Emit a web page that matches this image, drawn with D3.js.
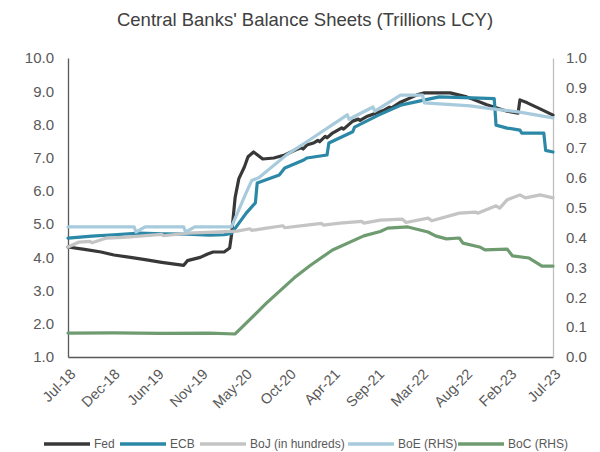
<!DOCTYPE html>
<html>
<head>
<meta charset="utf-8">
<script src="https://cdn.jsdelivr.net/npm/d3@7/dist/d3.min.js"></script>
<style>
  html, body { margin: 0; padding: 0; background: #fff; }
  svg { display: block; font-family: "Liberation Sans", Arial, sans-serif; }
</style>
</head>
<body>
<svg id="chart" width="600" height="452"></svg>
<script>
// Weekly-dated balance sheet readings, trillions of local currency
const fed = [
  ["2018-07-04", 4.31], ["2018-09-05", 4.24], ["2018-11-07", 4.16], ["2018-12-26", 4.07],
  ["2019-02-27", 4.00], ["2019-04-24", 3.93], ["2019-06-26", 3.85], ["2019-08-28", 3.78],
  ["2019-09-18", 3.76], ["2019-10-02", 3.90], ["2019-11-20", 4.00], ["2019-12-18", 4.10],
  ["2020-01-08", 4.16], ["2020-02-19", 4.16], ["2020-03-11", 4.28], ["2020-03-18", 4.67],
  ["2020-03-25", 5.25], ["2020-04-01", 5.81], ["2020-04-15", 6.37], ["2020-05-06", 6.72],
  ["2020-05-20", 7.03], ["2020-06-10", 7.17], ["2020-06-24", 7.09], ["2020-07-15", 6.96],
  ["2020-08-26", 6.99], ["2020-10-07", 7.08], ["2020-11-18", 7.24], ["2020-12-09", 7.30],
  ["2020-12-16", 7.26], ["2020-12-30", 7.38], ["2021-01-27", 7.45], ["2021-02-10", 7.52],
  ["2021-02-17", 7.48], ["2021-03-10", 7.64], ["2021-03-17", 7.60], ["2021-04-07", 7.74],
  ["2021-05-12", 7.90], ["2021-05-19", 7.86], ["2021-06-23", 8.10], ["2021-07-14", 8.16],
  ["2021-07-21", 8.12], ["2021-08-18", 8.25], ["2021-10-20", 8.43], ["2021-11-10", 8.52],
  ["2021-11-17", 8.49], ["2021-12-22", 8.67], ["2022-02-23", 8.89], ["2022-03-23", 8.95],
  ["2022-06-29", 8.95], ["2022-08-31", 8.83], ["2022-11-16", 8.59], ["2023-02-01", 8.40],
  ["2023-03-15", 8.34], ["2023-03-22", 8.74], ["2023-04-19", 8.65], ["2023-06-07", 8.47],
  ["2023-07-26", 8.28]
];
const ecb = [
  ["2018-07-04", 4.58], ["2018-10-03", 4.64], ["2018-12-26", 4.68], ["2019-04-03", 4.73],
  ["2019-06-26", 4.71], ["2019-10-02", 4.70], ["2019-12-25", 4.67], ["2020-02-19", 4.68],
  ["2020-03-18", 4.72], ["2020-05-13", 5.33], ["2020-06-17", 5.64], ["2020-06-24", 6.24],
  ["2020-09-16", 6.48], ["2020-10-07", 6.69], ["2020-12-16", 6.92], ["2020-12-30", 6.99],
  ["2021-03-17", 7.08], ["2021-03-24", 7.44], ["2021-06-23", 7.78], ["2021-06-30", 7.92],
  ["2021-09-29", 8.28], ["2021-12-22", 8.58], ["2022-05-18", 8.83], ["2022-09-21", 8.80],
  ["2022-12-14", 8.78], ["2022-12-21", 7.98], ["2023-02-01", 7.89], ["2023-03-22", 7.83],
  ["2023-03-29", 7.74], ["2023-06-21", 7.74], ["2023-06-28", 7.22], ["2023-07-26", 7.17]
];
// BoJ is shown in hundreds of trillions of yen
const boj = [
  ["2018-07-04", 4.31], ["2018-08-15", 4.46], ["2018-09-26", 4.48], ["2018-10-03", 4.44],
  ["2018-11-28", 4.58], ["2019-01-30", 4.60], ["2019-04-03", 4.64], ["2019-06-26", 4.69],
  ["2019-07-03", 4.65], ["2019-10-02", 4.73], ["2020-01-08", 4.76], ["2020-04-08", 4.79],
  ["2020-05-27", 4.86], ["2020-06-03", 4.81], ["2020-07-29", 4.88], ["2020-09-30", 4.95],
  ["2020-10-07", 4.89], ["2020-12-30", 4.97], ["2021-02-24", 5.02], ["2021-03-03", 4.97],
  ["2021-05-05", 5.03], ["2021-07-28", 5.08], ["2021-08-04", 5.03], ["2021-10-06", 5.12],
  ["2021-12-29", 5.15], ["2022-01-12", 5.05], ["2022-04-06", 5.18], ["2022-04-20", 5.10],
  ["2022-08-03", 5.33], ["2022-10-05", 5.36], ["2022-10-12", 5.33], ["2022-12-21", 5.55],
  ["2023-01-04", 5.48], ["2023-02-01", 5.73], ["2023-03-22", 5.88], ["2023-04-12", 5.79],
  ["2023-06-07", 5.88], ["2023-07-26", 5.79]
];
const boe = [
  ["2018-07-04", 0.435], ["2019-03-13", 0.435], ["2019-03-20", 0.418], ["2019-04-24", 0.435],
  ["2019-09-18", 0.435], ["2019-09-25", 0.418], ["2019-10-30", 0.435], ["2020-03-18", 0.435],
  ["2020-05-13", 0.55], ["2020-06-03", 0.59], ["2020-07-01", 0.60], ["2020-10-14", 0.676],
  ["2020-12-30", 0.72], ["2021-06-02", 0.81], ["2021-06-09", 0.795], ["2021-09-08", 0.836],
  ["2021-09-15", 0.822], ["2021-12-22", 0.876], ["2022-03-16", 0.876], ["2022-03-23", 0.85],
  ["2022-09-14", 0.84], ["2022-12-07", 0.83], ["2023-03-15", 0.82], ["2023-07-26", 0.80]
];
const boc = [
  ["2018-07-04", 0.080], ["2018-12-26", 0.081], ["2019-06-26", 0.079], ["2019-12-25", 0.080],
  ["2020-04-01", 0.077], ["2020-07-29", 0.18], ["2020-11-11", 0.264], ["2021-01-13", 0.307],
  ["2021-04-07", 0.358], ["2021-08-04", 0.405], ["2021-10-06", 0.420], ["2021-11-03", 0.431],
  ["2022-01-19", 0.435], ["2022-04-06", 0.418], ["2022-05-04", 0.405], ["2022-06-15", 0.395],
  ["2022-08-03", 0.398], ["2022-08-17", 0.381], ["2022-10-19", 0.368], ["2022-11-09", 0.358],
  ["2023-02-01", 0.361], ["2023-02-22", 0.338], ["2023-04-26", 0.331], ["2023-06-14", 0.304],
  ["2023-07-26", 0.304]
];

const tickDates = ["2018-07-04", "2018-12-19", "2019-06-05", "2019-11-20", "2020-05-06", "2020-10-21",
                   "2021-04-07", "2021-09-22", "2022-03-09", "2022-08-24", "2023-02-08", "2023-07-26"];
const tickLabels = ["Jul-18", "Dec-18", "Jun-19", "Nov-19", "May-20", "Oct-20",
                    "Apr-21", "Sep-21", "Mar-22", "Aug-22", "Feb-23", "Jul-23"];
const leftTicks = [1, 2, 3, 4, 5, 6, 7, 8, 9, 10];
const rightTicks = [0, 0.1, 0.2, 0.3, 0.4, 0.5, 0.6, 0.7, 0.8, 0.9, 1.0];

const seriesNames = ["Fed", "ECB", "BoJ (in hundreds)", "BoE (RHS)", "BoC (RHS)"];
const seriesData = [fed, ecb, boj, boe, boc];
const seriesAxis = ["left", "left", "left", "right", "right"];
const seriesColors = ["#383838", "#2b88a6", "#c4c4c4", "#a7cbdc", "#6e9c70"];

const parse = d3.timeParse("%Y-%m-%d");
const svg = d3.select("#chart");

const x = d3.scaleTime()
  .domain([parse(tickDates[0]), parse(tickDates[tickDates.length - 1])])
  .range([68, 553]);
const yL = d3.scaleLinear().domain([1, 10]).range([357, 58]);
const yR = d3.scaleLinear().domain([0, 1]).range([357, 58]);

// Title
svg.append("text")
  .attr("x", 305).attr("y", 26)
  .attr("text-anchor", "middle")
  .attr("font-size", 18.5)
  .attr("fill", "#404040")
  .text("Central Banks' Balance Sheets (Trillions LCY)");

// Axes
const labelMap = new Map(tickDates.map((d, i) => [+parse(d), tickLabels[i]]));
const gx = svg.append("g").attr("transform", "translate(0,357)")
  .call(d3.axisBottom(x).tickValues(tickDates.map(parse)).tickSize(0).tickSizeOuter(0)
    .tickFormat(d => labelMap.get(+d)));
gx.select(".domain").attr("stroke", "#595959").attr("stroke-width", 1.3);
gx.selectAll("text")
  .attr("font-size", 14.5).attr("fill", "#595959").attr("font-family", null)
  .attr("text-anchor", "end")
  .attr("dy", null).attr("y", 0)
  .attr("transform", "translate(8,18) rotate(-45)");

const gl = svg.append("g").attr("transform", "translate(68,0)")
  .call(d3.axisLeft(yL).tickValues(leftTicks).tickSize(0).tickSizeOuter(0).tickPadding(14)
    .tickFormat(d3.format(".1f")));
gl.select(".domain").attr("stroke", "#595959").attr("stroke-width", 1.3);
gl.selectAll("text").attr("font-size", 15).attr("fill", "#595959").attr("font-family", null);

const gr = svg.append("g").attr("transform", "translate(553,0)")
  .call(d3.axisRight(yR).tickValues(rightTicks).tickSize(0).tickSizeOuter(0).tickPadding(13)
    .tickFormat(d3.format(".1f")));
gr.select(".domain").attr("stroke", "#bfbfbf").attr("stroke-width", 1.3);
gr.selectAll("text").attr("font-size", 15).attr("fill", "#595959").attr("font-family", null);

// Series lines
seriesData.forEach((data, i) => {
  const y = seriesAxis[i] === "left" ? yL : yR;
  const line = d3.line().x(d => x(parse(d[0]))).y(d => y(d[1]));
  svg.append("path")
    .datum(data)
    .attr("d", line)
    .attr("fill", "none")
    .attr("stroke", seriesColors[i])
    .attr("stroke-width", 3.2)
    .attr("stroke-linejoin", "round")
    .attr("stroke-linecap", "round");
});

// Legend
const legendX = [44, 120, 200, 348, 458];
const lg = svg.append("g").attr("transform", "translate(0,444)");
seriesNames.forEach((name, i) => {
  lg.append("line")
    .attr("x1", legendX[i]).attr("x2", legendX[i] + 46)
    .attr("y1", 0).attr("y2", 0)
    .attr("stroke", seriesColors[i]).attr("stroke-width", 3.5);
  lg.append("text")
    .attr("x", legendX[i] + 50).attr("y", 4)
    .attr("font-size", 12).attr("fill", "#595959")
    .text(name);
});
</script>
</body>
</html>
